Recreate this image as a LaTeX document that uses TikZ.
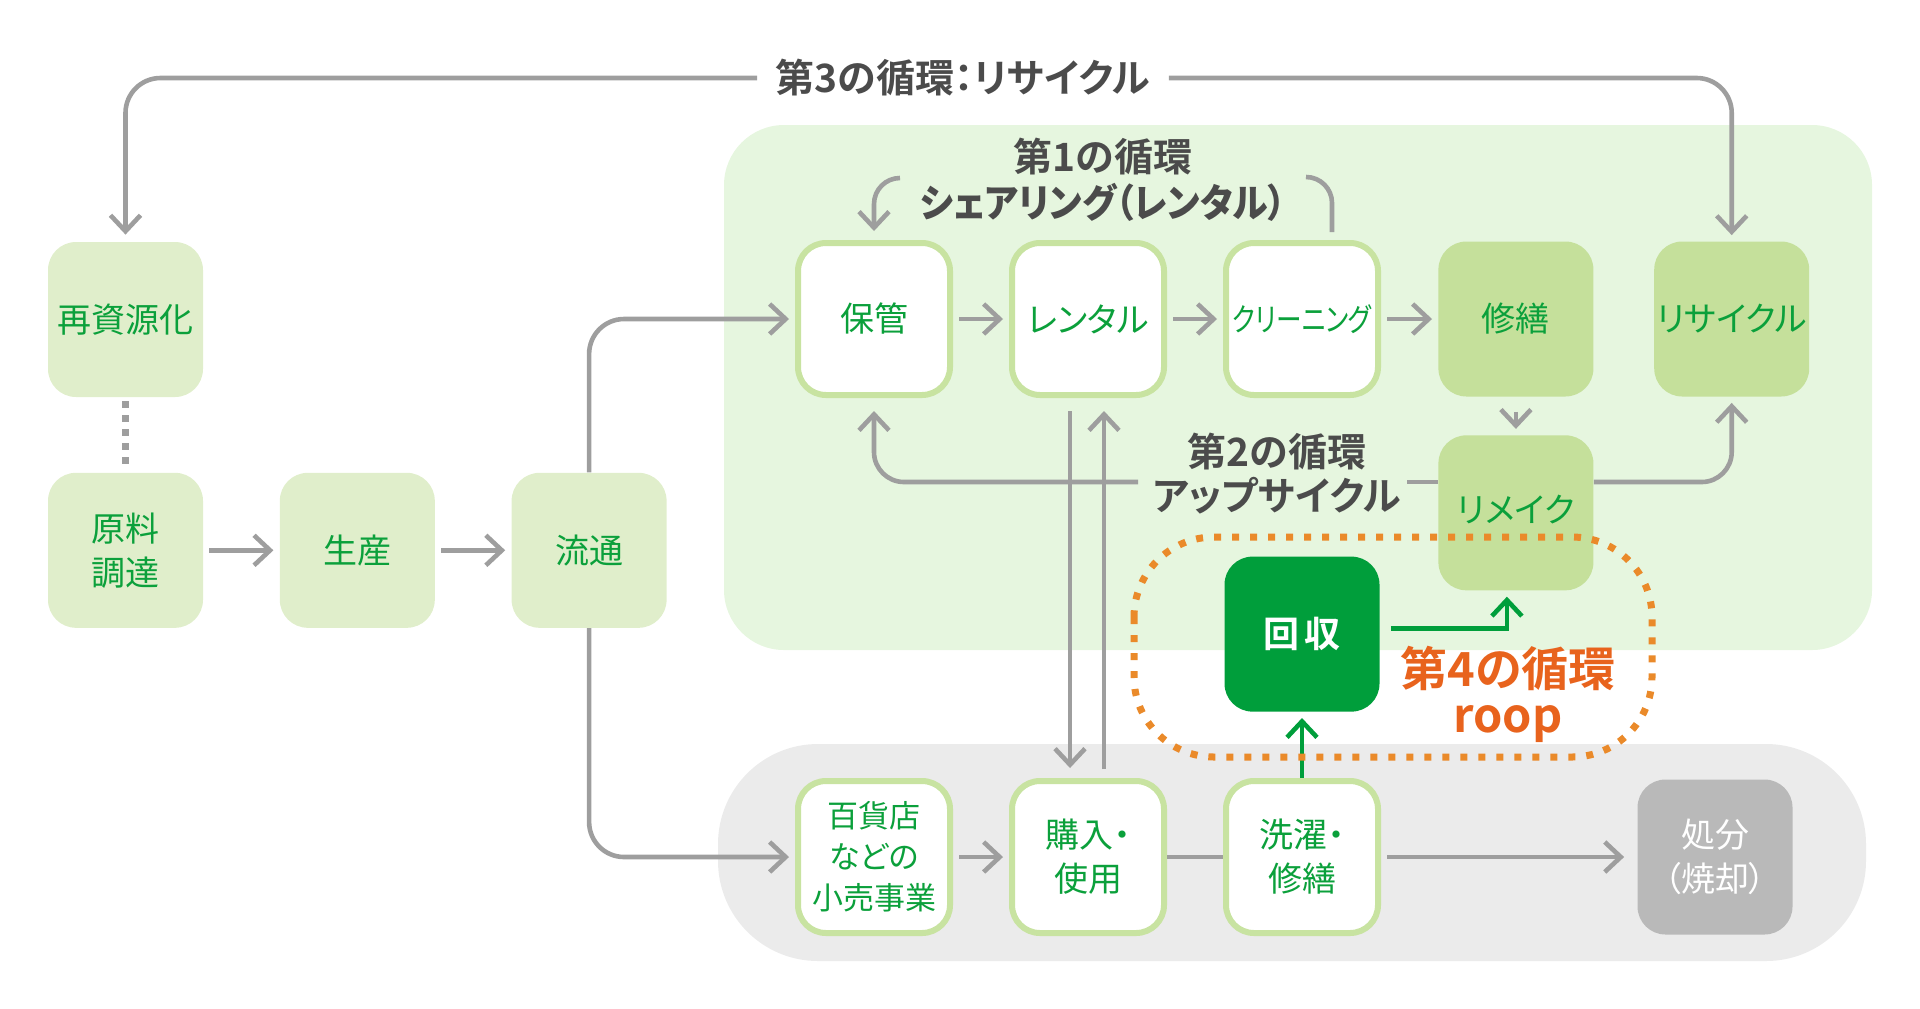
\documentclass[tikz,border=0pt]{standalone}
\usepackage{fontspec}
\newfontfamily\jp{Noto Sans CJK JP}[RawFeature=+palt, BoldFont={Noto Sans CJK JP Bold}]
\newfontfamily\jpc{Noto Sans CJK JP}[RawFeature=+palt, FakeStretch=0.8]
\newfontfamily\jpb{Noto Sans CJK JP Bold}[RawFeature=+palt, FakeStretch=0.92]
\usetikzlibrary{positioning, arrows.meta}
\definecolor{areagreen}{HTML}{E6F6DF}
\definecolor{palegreen}{HTML}{E0EECB}
\definecolor{midgreen}{HTML}{C5E09B}
\definecolor{edgegreen}{HTML}{C8E3A1}
\definecolor{txtgreen}{HTML}{0BA03B}
\definecolor{deepgreen}{HTML}{009E3B}
\definecolor{areagray}{HTML}{EBEBEB}
\definecolor{boxgray}{HTML}{B9B9B9}
\definecolor{linegray}{HTML}{9E9E9E}
\definecolor{lblgray}{HTML}{4B4B4B}
\definecolor{orangetxt}{HTML}{E8631D}
\definecolor{orangedot}{HTML}{EA8A2A}

\begin{document}
\begin{tikzpicture}[x=0.5pt, y=-0.5pt,
    box/.style={rounded corners=14pt, minimum width=77.5pt, minimum height=77.5pt, inner sep=0pt,
        align=center, text=txtgreen, font=\jp\fontsize{17}{22}\selectfont},
    pale/.style={box, fill=palegreen},
    mid/.style={box, fill=midgreen},
    wbox/.style={box, fill=white, draw=edgegreen, line width=3pt, minimum width=76pt, minimum height=76pt},
    line/.style={draw=linegray, line width=2.3pt},
    arr/.style={line, -{Straight Barb[length=8pt, width=15pt]}},
    flow/.style={arr, shorten <=3pt, shorten >=3pt},
    garr/.style={arr, draw=deepgreen},
    lbl/.style={text=lblgray, align=center, font=\jp\bfseries\fontsize{19.5}{22}\selectfont}]
    \useasboundingbox (0,0) rectangle (1920,1008);
    \fill[areagreen, rounded corners=30pt] (724,125) rectangle (1872,650);
    \fill[areagray, rounded corners=50pt] (718,744) rectangle (1866,961);

    \node[pale] (saishigen) at (125.5,319.5) {再資源化};
    \node[pale, below=37.5pt of saishigen] (genryo) {原料\\調達};
    \node[pale, right=38pt of genryo] (seisan) {生産};
    \node[pale, right=38pt of seisan] (ryutsu) {流通};
    \node[wbox] (hokan) at (874,319) {保管};
    \node[wbox, right=28pt of hokan] (rental) {レンタル};
    \node[wbox, right=28pt of rental, font=\jpc\fontsize{16}{22}\selectfont] (cleaning) {クリーニング};
    \node[mid, right=28.5pt of cleaning] (shuzen) {修繕};
    \node[mid, right=30pt of shuzen] (recycle) {リサイクル};
    \node[mid, below=19pt of shuzen] (remake) {\raisebox{4pt}{リメイク}};
    \node[wbox, font=\jp\fontsize{15.5}{20.5}\selectfont] (hyakka) at (874,857) {百貨店\\などの\\小売事業};
    \node[wbox, right=28pt of hyakka] (kounyu) {購入・\\使用};
    \node[wbox, right=28pt of kounyu] (sentaku) {洗濯・\\修繕};
    \node[box, fill=boxgray, text=white] (shobun) at (1715,857) {処分\\（焼却）};
    \node[box, fill=deepgreen, text=white, font=\jp\bfseries\fontsize{18}{22}\selectfont, above=33pt of sentaku] (kaishu) {回\,収};

    \node[lbl, inner xsep=9pt] (c3) at (963,78) {第3の循環：リサイクル};
    \node[lbl, font=\jp\bfseries\fontsize{19.5}{23}\selectfont] (c1) at (1103,180) {第1の循環\\{\jpb シェアリング（レンタル）}};
    \node[lbl] (c2) at (1277,474) {第2の循環\\アップサイクル};
    \node[text=orangetxt, align=center, font=\jp\bfseries\fontsize{23.5}{23}\selectfont] (c4) at (1508,694) {第4の循環\\roop};
    \coordinate (c1a) at (900,178);
    \coordinate (c1b) at (1306,177);
    \coordinate (c2l) at (1138,482);
    \coordinate (c2r) at (1407,482);

    \draw[arr, rounded corners=17.5pt, shorten >=3.5pt] (c3.west) -| (saishigen.north);
    \draw[arr, rounded corners=17.5pt, shorten >=3pt] (c3.east) -| (recycle.north);
    \draw[arr, rounded corners=13pt, shorten >=4.5pt] (c1a) -| (hokan.north);
    \draw[line, rounded corners=13pt, shorten <=4pt] ([xshift=15pt]cleaning.north) |- (c1b);
    \draw[arr, rounded corners=15pt, shorten >=6.5pt] (c2l) -| (hokan.south);
    \draw[line] (c2r) -- (c2r -| remake.west);
    \draw[arr, rounded corners=15pt, shorten >=3pt] (c2r -| remake.east) -| (recycle.south);
    \draw[line, line width=3.5pt, dash pattern=on 3.2pt off 3.8pt, shorten <=2pt, shorten >=2pt] (saishigen) -- (genryo);
    \draw[flow] (genryo) -- (seisan);
    \draw[flow] (seisan) -- (ryutsu);
    \draw[arr, rounded corners=17.5pt, shorten >=3pt] (ryutsu.north) |- (hokan.west);
    \draw[arr, rounded corners=17.5pt, shorten >=3pt] (ryutsu.south) |- (hyakka.west);
    \draw[flow] (hokan) -- (rental);
    \draw[flow] (rental) -- (cleaning);
    \draw[flow] (cleaning) -- (shuzen);
    \draw[arr, shorten <=7.5pt, shorten >=3pt] (shuzen) -- (remake);
    \draw[arr, shorten <=6.5pt, shorten >=5pt] ([xshift=-9pt]rental.south) -- ([xshift=-9pt]kounyu.north);
    \draw[arr, shorten <=4.5pt, shorten >=6.5pt] ([xshift=8pt]kounyu.north) -- ([xshift=8pt]rental.south);
    \draw[flow] (hyakka) -- (kounyu);
    \draw[line] (kounyu) -- (sentaku);
    \draw[arr, shorten <=3pt, shorten >=6.5pt] (sentaku) -- (shobun);
    \draw[garr, shorten >=3pt] (sentaku) -- (kaishu);
    \draw[garr, shorten <=5.5pt, shorten >=3pt] ([yshift=2.75pt]kaishu.east) -| ([xshift=-4.5pt]remake.south);
    \draw[orangedot, line width=3.5pt, dash pattern=on 3.5pt off 5.5pt, rounded corners=40pt] (1134,537) rectangle (1652,757);
\end{tikzpicture}
\end{document}
